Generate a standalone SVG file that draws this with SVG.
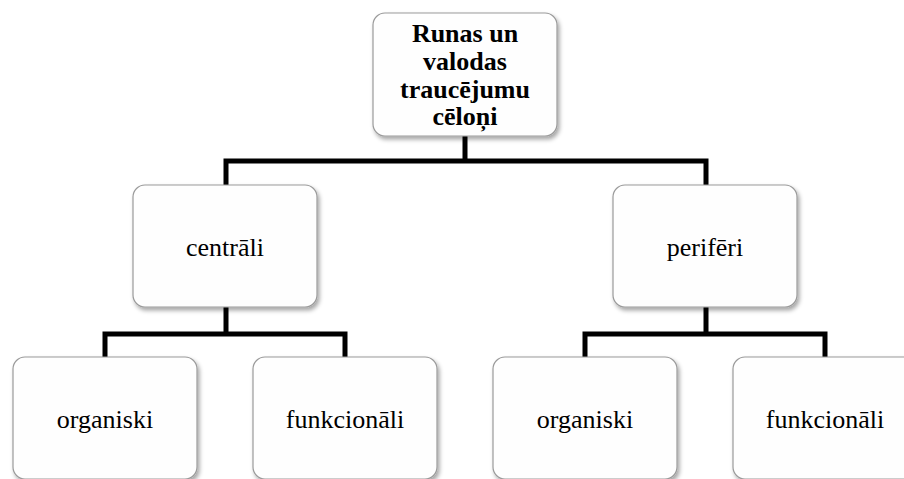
<svg xmlns="http://www.w3.org/2000/svg" width="904" height="479" viewBox="0 0 904 479">
  <defs>
    <filter id="shadow" x="-10%" y="-10%" width="125%" height="130%">
      <feDropShadow dx="2" dy="3" stdDeviation="2.2" flood-color="#000" flood-opacity="0.35"/>
    </filter>
    <style>
      .box { fill: #fefefe; stroke: #9a9a9a; stroke-width: 1.2; filter: url(#shadow); }
      .lbl { font-family: "Liberation Serif", "Times New Roman", serif; font-size: 26px; fill: #000; text-anchor: middle; }
      .title { font-weight: bold; }
      .wire { fill: none; stroke: #000; stroke-width: 5; stroke-linejoin: miter; stroke-linecap: butt; }
    </style>
  </defs>
  <rect width="904" height="479" fill="#fff"/>

  <g id="connectors">
    <path class="wire" d="M465 136 V161 M226 185 V161 H706 V185"/>
    <path class="wire" d="M226 307 V334 M105 357 V334 H345 V357"/>
    <path class="wire" d="M706 307 V334 M585 357 V334 H825 V357"/>
  </g>

  <g id="root">
    <rect class="box" x="373" y="13" width="184" height="123" rx="12"/>
    <text class="lbl title" x="465" y="42">Runas un</text>
    <text class="lbl title" x="465" y="70">valodas</text>
    <text class="lbl title" x="465" y="98">traucējumu</text>
    <text class="lbl title" x="465" y="125">cēloņi</text>
  </g>

  <g id="central">
    <rect class="box" x="133" y="185" width="184" height="122" rx="12"/>
    <text class="lbl" x="225" y="256">centrāli</text>
  </g>

  <g id="peripheral">
    <rect class="box" x="613" y="185" width="184" height="122" rx="12"/>
    <text class="lbl" x="705" y="256">perifēri</text>
  </g>

  <g id="central-organic">
    <rect class="box" x="13" y="357" width="184" height="122" rx="12"/>
    <text class="lbl" x="105" y="428">organiski</text>
  </g>

  <g id="central-functional">
    <rect class="box" x="253" y="357" width="184" height="122" rx="12"/>
    <text class="lbl" x="345" y="428">funkcionāli</text>
  </g>

  <g id="peripheral-organic">
    <rect class="box" x="493" y="357" width="184" height="122" rx="12"/>
    <text class="lbl" x="585" y="428">organiski</text>
  </g>

  <g id="peripheral-functional">
    <rect class="box" x="733" y="357" width="184" height="122" rx="12"/>
    <text class="lbl" x="825" y="428">funkcionāli</text>
  </g>
</svg>
